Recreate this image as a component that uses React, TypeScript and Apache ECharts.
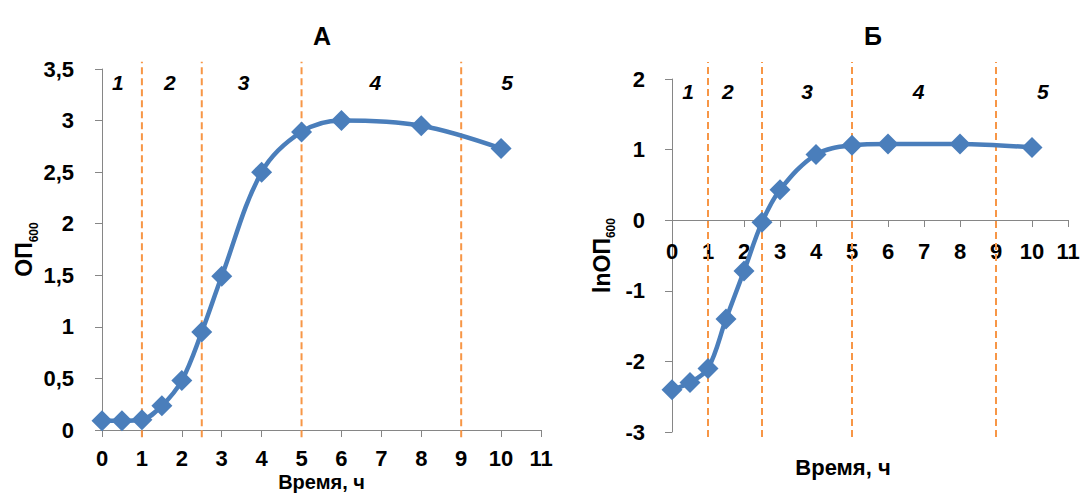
import React, { useEffect, useRef } from "react";
import * as echarts from "echarts";

// ---- data ----
const timeH = [0, 0.5, 1, 1.5, 2, 2.5, 3, 4, 5, 6, 8, 10];
const od600 = [0.09, 0.09, 0.1, 0.235, 0.48, 0.95, 1.49, 2.5, 2.89, 3.0, 2.95, 2.73];
const lnOd600 = [-2.4, -2.3, -2.1, -1.4, -0.72, -0.03, 0.43, 0.93, 1.06, 1.08, 1.08, 1.03];
const phaseBounds = [1, 2.5, 5, 9];
const phaseNames = ["1", "2", "3", "4", "5"];
const phaseLabelXA = [0.4, 1.7, 3.55, 6.85, 10.15];
const phaseLabelXB = [0.45, 1.55, 3.75, 6.85, 10.3];
const phaseLabelYA = 3.37;
const phaseLabelYB = 1.82;
const boundExtentA = [-0.07, 3.57];
const boundExtentB = [-3.07, 2.24];
const titles = ["А", "Б"];
const xName = "Время, ч";

const FONT = "'Liberation Sans', Arial, sans-serif";
const BLUE = "#4a7ebb";
const ORANGE = "#f79646";
const AXIS = "#868686";
const TICK_FS = 22;

function App() {
  const ref = useRef<HTMLDivElement>(null);
  useEffect(() => {
    if (!ref.current) return;
    const chart = echarts.init(ref.current, null, { renderer: "svg" });

    const nameRich = {
      a: { fontSize: 23, fontWeight: "bold", fontFamily: FONT, color: "#000", verticalAlign: "bottom", lineHeight: 26 },
      b: { fontSize: 12, fontWeight: "bold", fontFamily: FONT, color: "#000", verticalAlign: "bottom", lineHeight: 12, padding: [0, 0, -4, 0] },
    };

    const xAxisBase = (gridIndex: number, labelMargin: number) => ({
      type: "value",
      gridIndex,
      min: 0,
      max: 11,
      interval: 1,
      axisLine: { show: true, onZero: false, lineStyle: { color: AXIS, width: 1 } },
      axisTick: { show: true, length: 7, lineStyle: { color: AXIS } },
      axisLabel: { color: "#000", fontSize: TICK_FS, lineHeight: 22, fontWeight: "bold", fontFamily: FONT, margin: labelMargin },
      splitLine: { show: false },
      nameLocation: "middle",
      nameMoveOverlap: false,
      name: xName,
    });

    const boundSeries = (xi: number, ext: number[]) =>
      phaseBounds.map((b) => ({
        type: "line",
        xAxisIndex: xi,
        yAxisIndex: xi,
        data: [[b, ext[0]], [b, ext[1]]],
        symbol: "none",
        clip: false,
        silent: true,
        z: 1,
        lineStyle: { color: ORANGE, width: 2, type: [7, 4] },
      }));

    const labelSeries = (xi: number, xs: number[], y: number) => ({
      type: "scatter",
      xAxisIndex: xi,
      yAxisIndex: xi,
      symbolSize: 1,
      itemStyle: { color: "transparent" },
      silent: true,
      z: 4,
      data: xs.map((x, i) => ({ value: [x, y], name: phaseNames[i] })),
      label: {
        show: true,
        position: "inside",
        formatter: "{b}",
        color: "#000",
        opacity: 1,
        textBorderWidth: 0,
        fontSize: 21,
        fontWeight: "bold",
        fontStyle: "italic",
        fontFamily: FONT,
      },
    });

    const mainSeries = (xi: number, ys: number[]) => ({
      type: "line",
      xAxisIndex: xi,
      yAxisIndex: xi,
      data: timeH.map((t, i) => [t, ys[i]]),
      smooth: 0.35,
      symbol: "diamond",
      symbolSize: 21,
      clip: false,
      z: 3,
      lineStyle: { color: BLUE, width: 4.5 },
      itemStyle: { color: BLUE },
    });

    chart.setOption({
      animation: false,
      backgroundColor: "#fff",
      title: [
        { text: titles[0], left: 317, top: 18, textAlign: "center", textStyle: { fontSize: 25, fontWeight: "bold", fontFamily: FONT, color: "#000" } },
        { text: titles[1], left: 868, top: 18, textAlign: "center", textStyle: { fontSize: 25, fontWeight: "bold", fontFamily: FONT, color: "#000" } },
      ],
      grid: [
        { left: 102, top: 69, width: 439, height: 361, outerBoundsMode: "none", containLabel: false },
        { left: 672, top: 79, width: 396, height: 353, outerBoundsMode: "none", containLabel: false },
      ],
      xAxis: [
        {
          ...xAxisBase(0, 17),
          nameGap: 42,
          nameTextStyle: { fontSize: 20, lineHeight: 20, fontWeight: "bold", fontFamily: FONT, color: "#000" },
        },
        {
          ...xAxisBase(1, 20),
          offset: -212,
          nameGap: 236,
          nameTextStyle: { fontSize: 22, fontWeight: "bold", fontFamily: FONT, color: "#000", padding: [0, 54, 0, 0] },
        },
      ],
      yAxis: [
        {
          type: "value",
          gridIndex: 0,
          min: 0,
          max: 3.5,
          interval: 0.5,
          axisLine: { show: true, lineStyle: { color: AXIS, width: 1 } },
          axisTick: { show: true, length: 7, lineStyle: { color: AXIS } },
          axisLabel: {
            color: "#000",
            fontSize: TICK_FS,
            fontWeight: "bold",
            fontFamily: FONT,
            margin: 28,
            formatter: (v: number) => String(v).replace(".", ","),
          },
          splitLine: { show: false },
          name: "{a|ОП}{b|600}",
          nameLocation: "middle",
          nameGap: 65,
          nameTextStyle: { rich: nameRich },
        },
        {
          type: "value",
          gridIndex: 1,
          min: -3,
          max: 2,
          interval: 1,
          axisLine: { show: true, lineStyle: { color: AXIS, width: 1 } },
          axisTick: { show: true, length: 7, lineStyle: { color: AXIS } },
          axisLabel: { color: "#000", fontSize: TICK_FS, fontWeight: "bold", fontFamily: FONT, margin: 27 },
          splitLine: { show: false },
          name: "{a|lnОП}{b|600}",
          nameLocation: "middle",
          nameGap: 59,
          nameTextStyle: { rich: nameRich },
        },
      ],
      series: [
        ...boundSeries(0, boundExtentA),
        ...boundSeries(1, boundExtentB),
        labelSeries(0, phaseLabelXA, phaseLabelYA),
        labelSeries(1, phaseLabelXB, phaseLabelYB),
        mainSeries(0, od600),
        mainSeries(1, lnOd600),
      ],
    });

    return () => chart.dispose();
  }, []);

  return (
    <div
      ref={ref}
      style={{ position: "fixed", left: 0, top: 0, width: 1084, height: 493, background: "#fff" }}
    />
  );
}

export default App;
